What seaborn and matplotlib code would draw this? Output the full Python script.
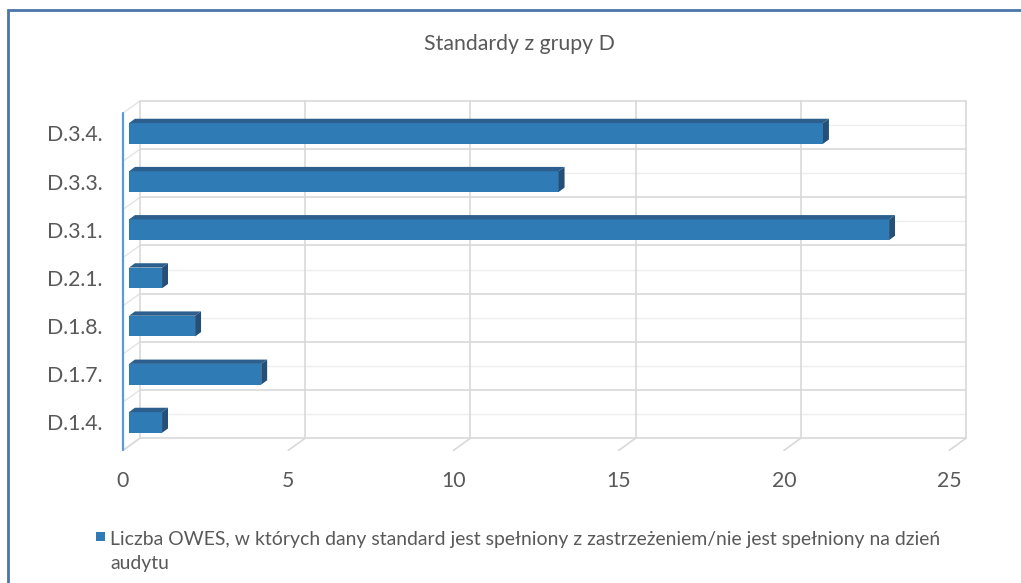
import numpy as np
import pandas as pd
import matplotlib
matplotlib.use("Agg")
import matplotlib.pyplot as plt
from matplotlib.patches import Polygon, Rectangle
import seaborn as sns

# Data
categories = ["D.3.4.", "D.3.3.", "D.3.1.", "D.2.1.", "D.1.8.", "D.1.7.", "D.1.4."]
values = [21, 13, 23, 1, 2, 4, 1]
x_ticks = [0, 5, 10, 15, 20, 25]
title = "Standardy z grupy D"
series_label = ["Liczba OWES, w których dany standard jest spełniony z zastrzeżeniem/nie jest spełniony na dzień",
                "audytu"]

FRONT = "#2e7bb6"
TOP = "#2c5f8d"
SIDE = "#264f77"
GRID = "#d9d9d9"
FAINT = "#eeeeee"
TEXT = "#595959"

sns.set_theme(style="white")
plt.rcParams["font.family"] = ["Lato", "DejaVu Sans"]

W, H = 1021, 583
fig = plt.figure(figsize=(W / 100, H / 100), dpi=100)
fig.patch.set_facecolor("white")

# outer frame (only the top and left edges fall inside the canvas)
fig.patches.append(Rectangle((8 / W, -0.1), 1.2, 1 - 10 / H + 0.1, transform=fig.transFigure,
                             fill=False, edgecolor="#4a76a8", linewidth=2))

ax = fig.add_axes([118 / W, 1 - 460 / H, (975 - 118) / W, (460 - 95) / H])

df = pd.DataFrame({"standard": categories, "count": values})
sns.barplot(data=df, x="count", y="standard", orient="h", order=categories,
            color=FRONT, saturation=1, width=0.43, linewidth=0, ax=ax, zorder=3)

xmin, xmax = -0.333, 25.6
ymin_top, ymax_bot = -0.798, 6.78
ax.set_xlim(xmin, xmax)
ax.set_ylim(ymax_bot, ymin_top)

# 3D-style walls
back_dx = 0.333      # back wall offset (x)
front_dx = -0.18     # front plane offset (x)
back_top, back_bot = -0.674, 6.326
front_bot = 6.58
n = len(categories)

for k in range(n + 1):
    y = back_top + k
    ax.plot([back_dx, 25 + back_dx], [y, y], color=GRID, lw=1.2, zorder=1)
    # left wall connector
    ax.plot([front_dx, back_dx], [y + 0.25, y], color="#e4e4e4", lw=1.0, zorder=1)
for k in range(n):
    y = back_top + 0.5 + k
    ax.plot([back_dx, 25 + back_dx], [y, y], color=FAINT, lw=1.0, zorder=1)
for v in x_ticks:
    ax.plot([v + back_dx, v + back_dx], [back_top, back_bot], color=GRID, lw=1.2, zorder=1)
    ax.plot([v + front_dx, v + back_dx], [front_bot, back_bot], color=GRID, lw=1.2, zorder=1)

# left axis line (blue)
ax.plot([front_dx, front_dx], [back_top + 0.25, front_bot], color="#5b9bd5", lw=1.6, zorder=2)

# depth faces on each bar
dx, dy = 0.18, 0.09
for p in list(ax.patches):
    x0, y0 = p.get_x(), p.get_y()
    w, h = p.get_width(), p.get_height()
    ytop = y0  # inverted axis: smaller y is higher
    ybot = y0 + h
    ax.add_patch(Polygon([(x0, ytop), (x0 + w, ytop), (x0 + w + dx, ytop - dy), (x0 + dx, ytop - dy)],
                         closed=True, facecolor=TOP, edgecolor="none", zorder=3))
    ax.add_patch(Polygon([(x0 + w, ytop), (x0 + w + dx, ytop - dy), (x0 + w + dx, ybot - dy), (x0 + w, ybot)],
                         closed=True, facecolor=SIDE, edgecolor="none", zorder=3))

for s in ax.spines.values():
    s.set_visible(False)

ax.set_xticks(np.array(x_ticks) + front_dx, labels=[str(t) for t in x_ticks])
ax.tick_params(axis="x", length=0, pad=8, labelsize=15.3, labelcolor=TEXT)
ax.tick_params(axis="y", length=0, pad=11, labelsize=15.3, labelcolor=TEXT)
ax.set_xlabel("")
ax.set_ylabel("")

fig.text(519 / W, 1 - 44 / H, title, ha="center", va="center", fontsize=15.3, color=TEXT)

# legend: marker and wrapped label
fig.patches.append(Rectangle((96 / W, 1 - 541 / H), 9 / W, 9 / H, transform=fig.transFigure,
                             facecolor=FRONT, edgecolor="none"))
fig.text(110 / W, 1 - 545 / H, series_label[0], ha="left", va="baseline", fontsize=13.95, color=TEXT)
fig.text(110 / W, 1 - 569.5 / H, series_label[1], ha="left", va="baseline", fontsize=13.95, color=TEXT)

fig.savefig("out.png", dpi=100)
